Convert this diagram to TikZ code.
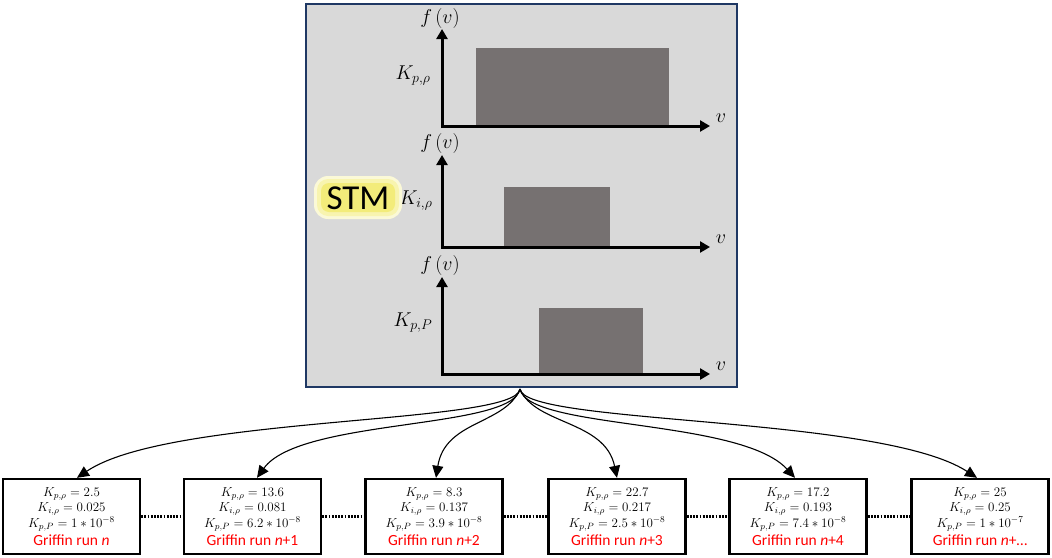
\documentclass[tikz,border=0pt]{standalone}
\usepackage{fontspec}
\usepackage{fix-cm}
\newfontfamily\calib{Carlito}
\usetikzlibrary{arrows.meta}
\definecolor{boxgray}{HTML}{D9D9D9}
\definecolor{navy}{HTML}{1F3864}
\definecolor{bargray}{HTML}{767171}
\definecolor{glow}{HTML}{F3EC7A}
\definecolor{runred}{HTML}{FF0000}
\newcommand\runtxt{\color{runred}\calib\fontsize{15.5}{15.5}\selectfont}
\begin{document}
\begin{tikzpicture}[x=1pt,y=-1pt,
  axis/.style={line width=3pt,{Triangle[length=10pt,width=11pt]}-{Triangle[length=10pt,width=11pt]}},
  bar/.style={fill=bargray},
  lbl/.style={inner sep=0pt,font=\fontsize{20}{20}\selectfont},
  runbox/.style={draw=black,line width=2.4pt,fill=white,minimum width=137pt,minimum height=75pt,inner sep=0pt,align=center,font=\fontsize{13}{15.5}\selectfont},
  link/.style={line width=1.1pt,-{Triangle[length=12pt,width=11pt]}},
  dots/.style={line width=2.4pt,dash pattern=on 1.8pt off 1.4pt}
]
\useasboundingbox (0,0) rectangle (1052,557);
% main panel
\draw[fill=boxgray,draw=navy,line width=2pt] (306,4) rectangle (737,387);
% plot 1
\fill[bar] (476,48) rectangle (669,126);
\draw[axis] (442,29) |- (710,126);
\node[lbl] (f1) at (440,18) {$f\,(v)$};
\node[lbl] (v1) at (721,118) {$v$};
\node[lbl] (k1) at (413,76) {$K_{p,\rho}$};
% plot 2
\fill[bar] (504,187) rectangle (610,247);
\draw[axis] (442,155) |- (710,247);
\node[lbl] (f2) at (440,143) {$f\,(v)$};
\node[lbl] (v2) at (721,239) {$v$};
\node[lbl] (k2) at (416,201) {$K_{i,\rho}$};
% plot 3
\fill[bar] (539,308) rectangle (643,374);
\draw[axis] (442,277) |- (710,374);
\node[lbl] (f3) at (440,265) {$f\,(v)$};
\node[lbl] (v3) at (721,366) {$v$};
\node[lbl] (k3) at (413,323) {$K_{p,P}$};
% STM
\fill[glow!30,rounded corners=14pt] (314,176) rectangle (402,219);
\fill[glow!60,rounded corners=11pt] (317,179) rectangle (399,216);
\fill[glow,rounded corners=8pt] (321,183) rectangle (395,212);
\node[inner sep=0pt,font=\calib\fontsize{35}{35}\selectfont] (stm) at (358,198) {STM};
% runs
\node[runbox] (r1) at (71.5,516.5) {$K_{p,\rho}=2.5$\\$K_{i,\rho}=0.025$\\$K_{p,P}=1\ast10^{-8}$\\[3pt]{\runtxt Griffin run \textit{n}}};
\node[runbox] (r2) at (252.5,516.5) {$K_{p,\rho}=13.6$\\$K_{i,\rho}=0.081$\\$K_{p,P}=6.2\ast10^{-8}$\\[3pt]{\runtxt Griffin run \textit{n}+1}};
\node[runbox] (r3) at (434,516.5) {$K_{p,\rho}=8.3$\\$K_{i,\rho}=0.137$\\$K_{p,P}=3.9\ast10^{-8}$\\[3pt]{\runtxt Griffin run \textit{n}+2}};
\node[runbox] (r4) at (617,516.5) {$K_{p,\rho}=22.7$\\$K_{i,\rho}=0.217$\\$K_{p,P}=2.5\ast10^{-8}$\\[3pt]{\runtxt Griffin run \textit{n}+3}};
\node[runbox] (r5) at (798,516.5) {$K_{p,\rho}=17.2$\\$K_{i,\rho}=0.193$\\$K_{p,P}=7.4\ast10^{-8}$\\[3pt]{\runtxt Griffin run \textit{n}+4}};
\node[runbox] (r6) at (980,516.5) {$K_{p,\rho}=25$\\$K_{i,\rho}=0.25$\\$K_{p,P}=1\ast10^{-7}$\\[3pt]{\runtxt Griffin run \textit{n}+\ldots}};
% dotted links
\draw[dots] (r1.east) -- (r2.west);
\draw[dots] (r2.east) -- (r3.west);
\draw[dots] (r3.east) -- (r4.west);
\draw[dots] (r4.east) -- (r5.west);
\draw[dots] (r5.east) -- (r6.west);
% fan of arrows
\coordinate (src) at (520,389);
\draw[link] (src) .. controls (516,425) and (170,415) .. ([xshift=5.5pt]r1.north);
\draw[link] (src) .. controls (512,430) and (300,418) .. ([xshift=4.5pt]r2.north);
\draw[link] (src) .. controls (505,425) and (445,420) .. ([xshift=2pt]r3.north);
\draw[link] (src) .. controls (535,425) and (605,420) .. (r4.north);
\draw[link] (src) .. controls (528,430) and (740,418) .. ([xshift=-3pt]r5.north);
\draw[link] (src) .. controls (524,425) and (880,415) .. ([xshift=-3pt]r6.north);
\end{tikzpicture}
\end{document}
